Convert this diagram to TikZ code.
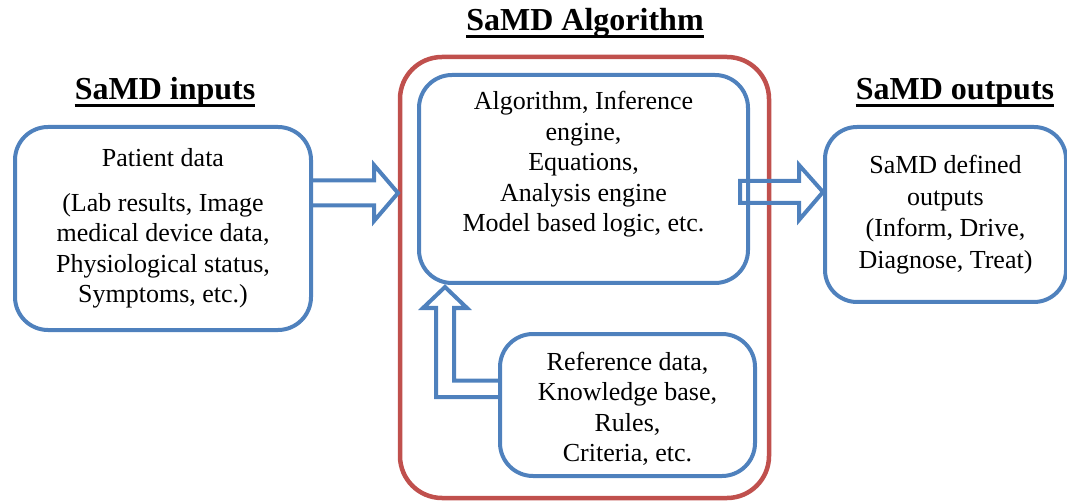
\documentclass[tikz,border=0pt]{standalone}
\usepackage{fontspec}
\setmainfont{Liberation Serif}
\usetikzlibrary{positioning}

\definecolor{boxblue}{RGB}{79,129,189}
\definecolor{boxred}{RGB}{192,80,77}

\tikzset{
  bluebox/.style={draw=boxblue, line width=4pt, rounded corners=33pt, align=center,
    inner sep=0pt, font=\fontsize{26}{30.5}\selectfont},
  txt/.style={align=center, inner sep=0pt, font=\fontsize{26}{30.5}\selectfont},
  redbox/.style={draw=boxred, line width=4.5pt, rounded corners=42pt},
  blockarrow/.style={draw=boxblue, line width=4pt},
  title/.style={font=\fontsize{32}{38}\selectfont\bfseries, inner sep=0pt, anchor=base},
  uline/.style={line width=3pt}
}

\begin{document}
\begin{tikzpicture}[x=1pt, y=-1pt]

    \clip (0,0) rectangle (1067,502);

    % titles
    \node[title] (tin) at (165,100) {SaMD inputs};
    \node[title] (talg) at (585,31) {SaMD Algorithm};
    \node[title] (tout) at (955,100) {SaMD outputs};

    \draw[uline] ([yshift=-6pt]tin.base west) -- ([yshift=-6pt]tin.base east);
    \draw[uline] ([yshift=-6pt]talg.base west) -- ([yshift=-6pt]talg.base east);
    \draw[uline] ([yshift=-6pt]tout.base west) -- ([yshift=-6pt]tout.base east);

    % boxes
    \node[redbox, minimum width=369, minimum height=441] (samd) at (584.5,277.5) {};

    \node[bluebox, minimum width=296, minimum height=203] (inp) at (163,228.5)
        {Patient data\\[14pt] (Lab results, Image\\ medical device data,\\ Physiological status,\\ Symptoms, etc.)};

    \node[bluebox, minimum width=329, minimum height=208] (alg) at (583.5,179) {};
    \node[txt, anchor=north] (algtext) at (583.5,91)
        {Algorithm, Inference\\ engine,\\ Equations,\\ Analysis engine\\ Model based logic, etc.};

    \node[bluebox, minimum width=255, minimum height=142] (ref) at (627.5,405)
        {\\[-5pt]Reference data,\\ Knowledge base,\\ Rules,\\ Criteria, etc.};

    \node[bluebox, rounded corners=32pt, minimum width=241, minimum height=175,
        font=\fontsize{26}{31.5}\selectfont] (out) at (945.5,214.5)
        {SaMD defined\\ outputs\\ (Inform, Drive,\\ Diagnose, Treat)};

    % block arrows
    \draw[blockarrow] (inp.east |- 0,180.5) -- (374,180.5) -- (374,165) -- (398,193)
        -- (374,221) -- (374,205.5) -- (inp.east |- 0,205.5);

    \draw[blockarrow] (740,181) -- (799,181) -- (799,165) -- (out.west |- 0,192)
        -- (799,220) -- (799,203) -- (740,203) -- cycle;

    \draw[blockarrow] (ref.west |- 0,380.5) -- (454,380.5) -- (454,308) -- (467,308)
        -- (445,287) -- (423,308) -- (436,308) -- (436,397) -- (ref.west |- 0,397);

\end{tikzpicture}
\end{document}
